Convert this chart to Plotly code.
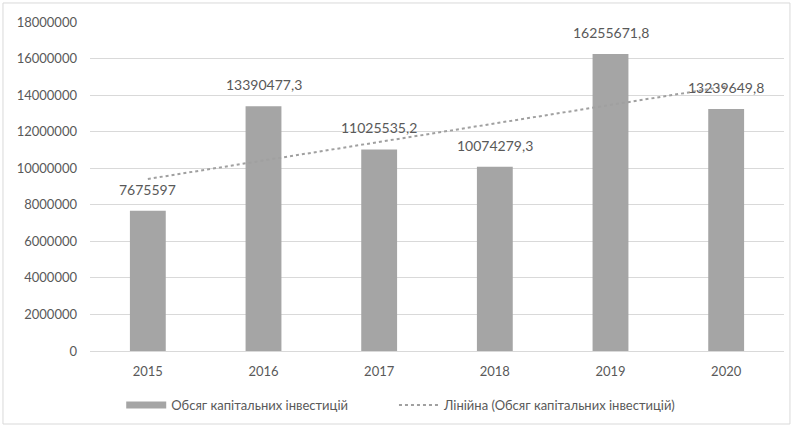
import numpy as np
import plotly.graph_objects as go

# Capital investment volume by year
years = ["2015", "2016", "2017", "2018", "2019", "2020"]
investments = [7675597, 13390477.3, 11025535.2, 10074279.3, 16255671.8, 13239649.8]
y_ticks = list(range(0, 18000001, 2000000))

series_name = "Обсяг капітальних інвестицій"
trend_name = "Лінійна (Обсяг капітальних інвестицій)"


def fmt(v):
    s = ("%.1f" % v).rstrip("0").rstrip(".")
    return s.replace(".", ",")


labels = [fmt(v) for v in investments]

# Linear trend fitted over the year index
idx = np.arange(1, len(years) + 1)
slope, intercept = np.polyfit(idx, investments, 1)
trend = slope * idx + intercept

font_family = "Lato, 'Open Sans', Arial, sans-serif"
text_color = "#595959"
bar_color = "#a5a5a5"

fig = go.Figure()
fig.add_trace(go.Bar(
    x=years, y=investments, name=series_name, showlegend=False,
    marker=dict(color=bar_color, line=dict(width=0)),
    width=0.31,
))
# Legend entry for the bars drawn as a wide swatch
fig.add_trace(go.Scatter(
    x=[years[0]], y=[None], name=series_name, mode="lines",
    line=dict(color=bar_color, width=7), legend="legend",
))
fig.add_trace(go.Scatter(
    x=years, y=trend, name=trend_name, mode="lines",
    line=dict(color="#a0a0a0", width=2, dash="dot"), legend="legend2",
))

# Value labels above each bar (category index positions)
for i, (v, lab) in enumerate(zip(investments, labels)):
    fig.add_annotation(x=i, y=v, text=lab, showarrow=False,
                       yanchor="bottom", yshift=11,
                       font=dict(size=14, color=text_color, family=font_family))

legend_style = dict(orientation="h", yanchor="middle", y=-0.164, xanchor="left",
                    font=dict(size=13, color=text_color), itemwidth=40,
                    bgcolor="rgba(0,0,0,0)")

fig.update_layout(
    width=793, height=426,
    margin=dict(l=90, r=9, t=22, b=75, autoexpand=False),
    paper_bgcolor="white", plot_bgcolor="white",
    font=dict(family=font_family, size=13, color=text_color),
    showlegend=True,
    legend=dict(x=0.045, **legend_style),
    legend2=dict(x=0.438, **legend_style),
    xaxis=dict(type="category", categoryorder="array", categoryarray=years,
               range=[-0.5, len(years) - 0.5],
               showgrid=False, showline=False, ticks="", tickfont=dict(size=13),
               ticklabelstandoff=11),
    yaxis=dict(range=[0, 18000000], tickvals=y_ticks, tickformat="d",
               showgrid=True, gridcolor="#d9d9d9", gridwidth=1,
               zeroline=True, zerolinecolor="#d9d9d9", zerolinewidth=1,
               showline=False, ticks="", tickfont=dict(size=13),
               ticklabelstandoff=12),
    shapes=[dict(type="rect", xref="paper", yref="paper",
                 x0=-0.1254, x1=1.0086, y0=-0.2219, y1=1.0578,
                 line=dict(color="#d9d9d9", width=1))],
)

fig.write_html("out.html")
